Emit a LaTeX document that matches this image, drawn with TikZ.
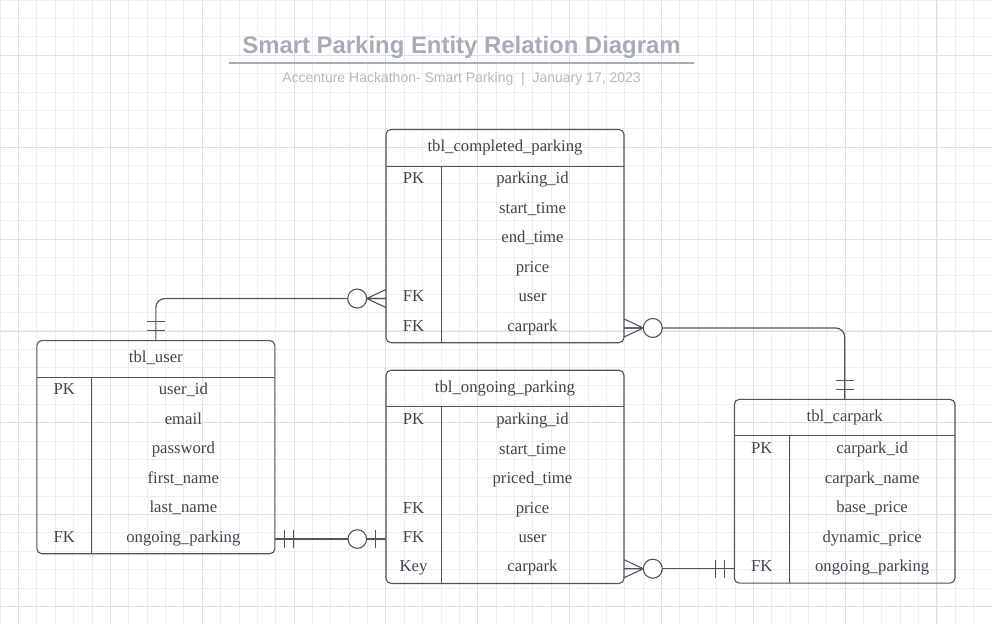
\documentclass[tikz,border=0pt]{standalone}
\usepackage{fontspec}
\setmainfont{Liberation Serif}
\newfontfamily\titlefont{Liberation Sans}
\usetikzlibrary{positioning,fit}

\definecolor{gridminor}{HTML}{EFEFEF}
\definecolor{gridmajor}{HTML}{E0E0E0}
\definecolor{erline}{HTML}{50545D}
\definecolor{ertext}{HTML}{3F444D}
\definecolor{titlegray}{HTML}{A7ACB6}
\definecolor{subgray}{HTML}{B4B8C0}

\tikzset{
  tblhead/.style={minimum height=36.5pt, inner sep=0pt, outer sep=0pt, text height=12pt, text depth=5pt,
    text=ertext, font=\fontsize{16.7}{20}\selectfont},
  field/.style={minimum height=29.45pt, inner sep=0pt, outer sep=0pt, text height=12pt, text depth=5.6pt,
    text=ertext, font=\fontsize{16.7}{20}\selectfont},
  wide/.style={field, minimum width=183pt},
  narrow/.style={field, minimum width=165.7pt},
  keycol/.style={field, minimum width=55pt},
  tblbox/.style={draw=erline, line width=1.1pt, rounded corners=5pt, inner sep=0pt, outer sep=0pt},
  tblrule/.style={draw=erline, line width=1pt},
  rel/.style={draw=erline, line width=1.2pt, rounded corners=9pt},
  zeromany/.pic={
    \draw[erline, line width=1.1pt] (0,9) -- (19.3,0) -- (0,-9) (0,0) -- (19.3,0);
    \draw[erline, line width=1.1pt, fill=white] (28.8,0) circle [radius=9.5pt];
  },
  zeroone/.pic={
    \draw[erline, line width=1.1pt] (10.3,9) -- (10.3,-9);
    \draw[erline, line width=1.1pt, fill=white] (28.7,0) circle [radius=9.3pt];
  },
  onlyone/.pic={
    \draw[erline, line width=1.1pt] (10,9) -- (10,-9) (19,9) -- (19,-9);
  },
}

\begin{document}
\begin{tikzpicture}[x=1pt, y=-1pt]
  \useasboundingbox (0,0) rectangle (992,624);
  \fill[white] (0,0) rectangle (992,624);
  \begin{scope}
    \clip (0,0) rectangle (992,624);
    \draw[gridminor, line width=0.6pt, step=18.37pt] (0,0) grid (992,624);
    \draw[gridmajor, line width=0.7pt, step=91.85pt, shift={(18.3,55.3)}] (-18.3,-55.3) grid (973.7,568.7);
  \end{scope}

  % title
  \node[font=\titlefont\bfseries\fontsize{23.9}{28}\selectfont, text=titlegray, anchor=base,
        inner xsep=13pt, inner ysep=0pt, text depth=9.4pt] (ttl) at (461.5,53.3)
        {Smart Parking Entity Relation Diagram};
  \draw[titlegray, line width=2pt] (ttl.south west) -- (ttl.south east);
  \node[font=\titlefont\fontsize{14}{17}\selectfont, text=subgray, anchor=base] (sub) at (461.5,82.3)
        {Accenture Hackathon- Smart Parking\hspace{0.556em}|\hspace{0.556em}January 17, 2023};

  % tbl_completed_parking
  \node[tblhead, minimum width=238pt] (cp) at (505,147.75) {tbl\_completed\_parking};
  \node[wide, anchor=north east] (cp1) at (cp.south east) {parking\_id};
  \node[wide, below=0pt of cp1] (cp2) {start\_time};
  \node[wide, below=0pt of cp2] (cp3) {end\_time};
  \node[wide, below=0pt of cp3] (cp4) {price};
  \node[wide, below=0pt of cp4] (cp5) {user};
  \node[wide, below=0pt of cp5] (cp6) {carpark};
  \node[keycol, left=0pt of cp1] (cpk1) {PK};
  \node[keycol, left=0pt of cp5] (cpk5) {FK};
  \node[keycol, left=0pt of cp6] (cpk6) {FK};
  \node[tblbox, fit=(cp)(cpk6)(cp6)] (cpbox) {};
  \draw[tblrule] (cp.south west) -- (cp.south east);
  \draw[tblrule] (cpk1.north east) -- (cpk6.south east);

  % tbl_user
  \node[tblhead, minimum width=238pt] (us) at (155.85,358.8) {tbl\_user};
  \node[wide, anchor=north east] (us1) at (us.south east) {user\_id};
  \node[wide, below=0pt of us1] (us2) {email};
  \node[wide, below=0pt of us2] (us3) {password};
  \node[wide, below=0pt of us3] (us4) {first\_name};
  \node[wide, below=0pt of us4] (us5) {last\_name};
  \node[wide, below=0pt of us5] (us6) {ongoing\_parking};
  \node[keycol, left=0pt of us1] (usk1) {PK};
  \node[keycol, left=0pt of us6] (usk6) {FK};
  \node[tblbox, fit=(us)(usk6)(us6)] (usbox) {};
  \draw[tblrule] (us.south west) -- (us.south east);
  \draw[tblrule] (usk1.north east) -- (usk6.south east);

  % tbl_ongoing_parking
  \node[tblhead, minimum width=238pt] (og) at (505,388.5) {tbl\_ongoing\_parking};
  \node[wide, anchor=north east] (og1) at (og.south east) {parking\_id};
  \node[wide, below=0pt of og1] (og2) {start\_time};
  \node[wide, below=0pt of og2] (og3) {priced\_time};
  \node[wide, below=0pt of og3] (og4) {price};
  \node[wide, below=0pt of og4] (og5) {user};
  \node[wide, below=0pt of og5] (og6) {carpark};
  \node[keycol, left=0pt of og1] (ogk1) {PK};
  \node[keycol, left=0pt of og4] (ogk4) {FK};
  \node[keycol, left=0pt of og5] (ogk5) {FK};
  \node[keycol, left=0pt of og6] (ogk6) {Key};
  \node[tblbox, fit=(og)(ogk6)(og6)] (ogbox) {};
  \draw[tblrule] (og.south west) -- (og.south east);
  \draw[tblrule] (ogk1.north east) -- (ogk6.south east);

  % tbl_carpark
  \node[tblhead, minimum width=220.7pt] (ca) at (844.65,417.6) {tbl\_carpark};
  \node[narrow, anchor=north east] (ca1) at (ca.south east) {carpark\_id};
  \node[narrow, below=0pt of ca1] (ca2) {carpark\_name};
  \node[narrow, below=0pt of ca2] (ca3) {base\_price};
  \node[narrow, below=0pt of ca3] (ca4) {dynamic\_price};
  \node[narrow, below=0pt of ca4] (ca5) {ongoing\_parking};
  \node[keycol, left=0pt of ca1] (cak1) {PK};
  \node[keycol, left=0pt of ca5] (cak5) {FK};
  \node[tblbox, fit=(ca)(cak5)(ca5)] (cabox) {};
  \draw[tblrule] (ca.south west) -- (ca.south east);
  \draw[tblrule] (cak1.north east) -- (cak5.south east);

  % relations
  \draw[rel] (us.north) |- (cpk5.west);
  \draw[rel] (cp6.east) -| (ca.north);
  \draw[rel] (us6.east) -- (us6.east -| ogk5.west);
  \draw[rel] (og6.east) -- (og6.east -| cak5.west);

  \path (cpk5.west) pic[rotate=180] {zeromany};
  \path (us.north) pic[rotate=90] {onlyone};
  \path (cp6.east) pic {zeromany};
  \path (ca.north) pic[rotate=90] {onlyone};
  \path (us6.east) pic {onlyone};
  \path (us6.east -| ogk5.west) pic[rotate=180] {zeroone};
  \path (og6.east) pic {zeromany};
  \path (og6.east -| cak5.west) pic[rotate=180] {onlyone};
\end{tikzpicture}
\end{document}
